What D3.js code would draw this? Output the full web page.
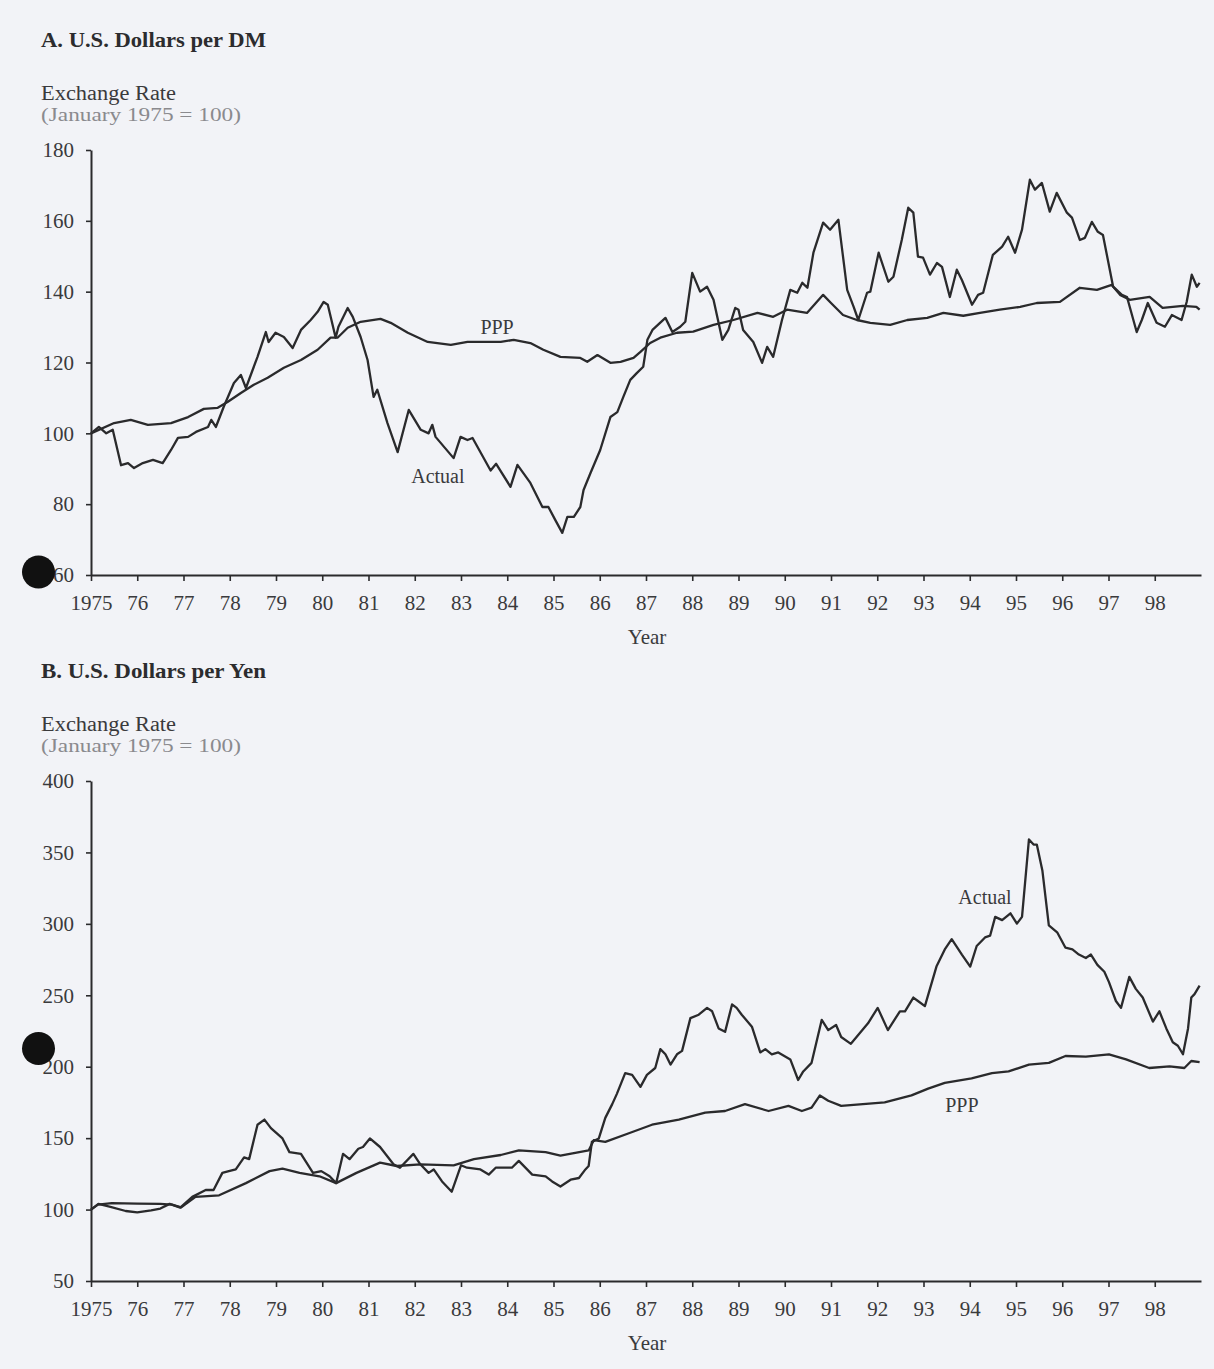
<!DOCTYPE html>
<html>
<head>
<meta charset="utf-8">
<script src="https://cdn.jsdelivr.net/npm/d3@7"></script>
<style>
  html, body { margin: 0; padding: 0; background: #f2f3f7; }
  svg { display: block; }
  text { font-family: "Liberation Serif", "Times New Roman", serif; }
</style>
</head>
<body>
<svg id="chart" width="1214" height="1369"></svg>
<script>
// ---------- DATA ----------
const yearTicks = d3.range(1975, 1999);           // 1975 .. 98
const dmTicks = [60, 80, 100, 120, 140, 160, 180];
const yenTicks = [50, 100, 150, 200, 250, 300, 350, 400];

// A. U.S. Dollars per DM (January 1975 = 100) — [year, index]
const dmActual = [
  [1975.00,100],[1975.17,101.8],[1975.33,100],[1975.47,101],[1975.65,91],[1975.80,91.6],[1975.93,90.2],
  [1976.12,91.6],[1976.34,92.5],[1976.55,91.6],[1976.73,95.3],[1976.88,98.7],[1977.10,99],[1977.27,100.4],
  [1977.53,101.8],[1977.60,103.8],[1977.70,101.8],[1977.87,107.5],[1978.09,114.2],[1978.24,116.5],
  [1978.35,112.8],[1978.60,121.6],[1978.78,128.6],[1978.84,125.8],[1978.99,128.4],[1979.17,127.2],
  [1979.36,124.1],[1979.54,129.2],[1979.75,132],[1979.90,134.3],[1980.03,137.1],[1980.12,136.3],
  [1980.29,127],[1980.35,130.1],[1980.55,135.4],[1980.66,132.9],[1980.83,127.2],[1980.98,120.7],
  [1981.11,110.3],[1981.19,112.3],[1981.41,102.9],[1981.63,94.7],[1981.87,106.6],[1982.13,101],
  [1982.30,100],[1982.38,102.4],[1982.45,99],[1982.84,93],[1982.99,99],[1983.14,98.1],[1983.25,98.7],
  [1983.64,89.5],[1983.76,91.4],[1984.07,84.9],[1984.22,91.1],[1984.50,86],[1984.76,79.2],[1984.89,79.2],
  [1985.04,75.5],[1985.19,71.9],[1985.30,76.4],[1985.44,76.4],[1985.58,79.2],[1985.65,84],[1985.80,88.8],
  [1986.01,95.3],[1986.23,104.6],[1986.38,106],[1986.51,110.3],[1986.66,115.1],[1986.80,117],[1986.94,118.8],
  [1987.03,126.4],[1987.14,129.2],[1987.42,132.6],[1987.57,128.6],[1987.74,130.1],[1987.85,131.5],
  [1988.00,145.3],[1988.17,140],[1988.32,141.4],[1988.46,137.7],[1988.65,126.4],[1988.78,129.2],
  [1988.93,135.4],[1989.00,134.9],[1989.10,129.2],[1989.32,125.8],[1989.51,119.9],[1989.62,124.4],
  [1989.75,121.6],[1989.94,132],[1990.12,140.5],[1990.27,139.7],[1990.38,142.5],[1990.49,141.1],
  [1990.62,151],[1990.83,159.5],[1990.98,157.5],[1991.16,160.3],[1991.35,140.5],[1991.49,135.7],
  [1991.59,132],[1991.78,139.7],[1991.85,140],[1992.03,151],[1992.24,142.8],[1992.35,144.2],
  [1992.53,154.6],[1992.67,163.7],[1992.78,162.3],[1992.88,149.9],[1992.99,149.6],[1993.14,144.8],
  [1993.29,148.1],[1993.40,147],[1993.57,138.5],[1993.72,146.2],[1993.83,143.3],[1994.05,136.3],
  [1994.18,139.1],[1994.29,139.7],[1994.50,150.4],[1994.70,152.7],[1994.83,155.5],[1994.98,151],
  [1995.13,157.5],[1995.30,171.6],[1995.41,168.8],[1995.56,170.7],[1995.73,162.6],[1995.88,167.9],
  [1996.10,162.3],[1996.21,160.9],[1996.38,154.6],[1996.49,155.2],[1996.64,159.7],[1996.77,156.9],
  [1996.88,156],[1997.10,141.4],[1997.29,139.1],[1997.40,138.5],[1997.61,128.6],[1997.72,132],
  [1997.85,136.8],[1998.04,131.2],[1998.22,130.1],[1998.37,133.4],[1998.58,132],[1998.69,137.1],
  [1998.80,144.8],[1998.91,141.4],[1998.97,142.5]
];
const dmPPP = [
  [1975.00,100],[1975.50,102.9],[1975.86,103.8],[1976.23,102.4],[1976.73,102.9],[1977.10,104.6],
  [1977.44,106.9],[1977.74,107.2],[1977.96,108.9],[1978.24,111.4],[1978.52,113.7],[1978.82,115.7],
  [1979.17,118.5],[1979.54,120.7],[1979.90,123.6],[1980.18,127],[1980.33,127],[1980.55,129.8],
  [1980.83,131.5],[1981.26,132.3],[1981.48,131.2],[1981.85,128.4],[1982.28,125.8],[1982.78,125],
  [1983.14,125.8],[1983.86,125.8],[1984.14,126.4],[1984.50,125.5],[1984.78,123.6],[1985.15,121.6],
  [1985.58,121.3],[1985.73,120.2],[1985.95,122.1],[1986.23,119.9],[1986.45,120.2],[1986.73,121.3],
  [1986.88,123],[1987.09,125.5],[1987.31,127],[1987.67,128.4],[1988.02,128.7],[1988.46,130.6],
  [1988.89,132],[1989.41,134],[1989.75,132.9],[1990.05,134.9],[1990.48,134],[1990.83,139.1],
  [1991.00,136.8],[1991.26,133.4],[1991.56,132],[1991.85,131.2],[1992.28,130.6],[1992.65,132],
  [1993.08,132.6],[1993.43,134],[1993.86,133.2],[1994.22,134],[1994.65,134.9],[1995.09,135.7],
  [1995.45,136.8],[1995.95,137.1],[1996.38,141.1],[1996.75,140.5],[1997.07,141.9],[1997.25,139.1],
  [1997.46,137.7],[1997.89,138.5],[1998.17,135.4],[1998.61,136],[1998.90,135.7],[1998.97,134.9]
];

// B. U.S. Dollars per Yen (January 1975 = 100) — [year, index]
const yenActual = [
  [1975.00,100],[1975.16,104],[1975.40,102],[1975.75,99],[1976.00,98],[1976.30,99.5],[1976.50,100.7],
  [1976.70,104],[1976.93,101.4],[1977.19,108.9],[1977.48,113.7],[1977.65,113.7],[1977.84,125.7],
  [1977.98,126.9],[1978.13,128.1],[1978.31,136.5],[1978.42,135.3],[1978.60,159.4],[1978.75,163],
  [1978.89,157],[1979.14,149.8],[1979.29,140.2],[1979.54,139],[1979.80,125.7],[1979.98,126.9],
  [1980.16,123.3],[1980.30,118.5],[1980.45,139],[1980.59,135.3],[1980.78,142.6],[1980.88,143.8],
  [1981.03,149.8],[1981.25,143.8],[1981.54,131.7],[1981.68,129.3],[1981.97,139],[1982.12,131.7],
  [1982.30,125.7],[1982.41,128.1],[1982.59,119.7],[1982.80,112.5],[1983.00,131],[1983.13,129.3],
  [1983.42,128.1],[1983.60,124.5],[1983.75,129.3],[1984.10,129.3],[1984.25,134.1],[1984.54,124.5],
  [1984.83,123.3],[1984.97,119.7],[1985.15,116.1],[1985.37,120.9],[1985.55,122.1],[1985.69,128.1],
  [1985.76,130.5],[1985.83,147.4],[1985.98,149.8],[1986.12,164.2],[1986.27,173.8],[1986.37,181],
  [1986.55,195.5],[1986.70,194.3],[1986.88,185.9],[1987.02,194.3],[1987.20,199.1],[1987.31,212.3],
  [1987.42,208.7],[1987.53,201.5],[1987.67,208.7],[1987.78,211.1],[1987.96,234],[1988.14,236.4],
  [1988.32,241.2],[1988.43,238.8],[1988.57,226.8],[1988.71,224.4],[1988.86,243.6],[1988.96,241.2],
  [1989.07,236.4],[1989.29,228],[1989.47,210],[1989.58,212.3],[1989.72,208.7],[1989.86,210],
  [1990.12,205.1],[1990.29,190.7],[1990.40,196.7],[1990.58,202.7],[1990.80,232.8],[1990.94,225.6],
  [1991.11,229.2],[1991.22,220.8],[1991.43,216],[1991.80,230.4],[1992.01,241.2],[1992.23,225.6],
  [1992.49,238.8],[1992.60,238.8],[1992.78,248.4],[1992.88,246],[1993.03,242.4],[1993.28,270.1],
  [1993.46,282.1],[1993.61,289.3],[1993.83,278.5],[1994.01,270.1],[1994.15,284.5],[1994.33,290.5],
  [1994.44,291.7],[1994.55,304.9],[1994.70,302.6],[1994.88,307.4],[1995.02,300.2],[1995.13,304.9],
  [1995.28,359.1],[1995.38,355.5],[1995.45,355.5],[1995.57,337.4],[1995.71,298.9],[1995.89,294.1],
  [1996.07,283.3],[1996.22,282.1],[1996.36,278.5],[1996.51,276.1],[1996.62,278.5],[1996.76,271.3],
  [1996.91,266.5],[1997.01,259.2],[1997.16,246],[1997.27,241.2],[1997.45,262.9],[1997.59,254.5],
  [1997.74,248.4],[1997.96,231.6],[1998.10,238.8],[1998.25,226.8],[1998.39,217.1],[1998.50,214.7],
  [1998.61,208.7],[1998.72,226.8],[1998.79,248.4],[1998.86,250.8],[1998.97,256.8]
];
const yenPPP = [
  [1975.00,100],[1975.15,103.5],[1975.45,104.5],[1976.00,104.2],[1976.50,104],[1976.75,103.5],
  [1976.95,101.5],[1977.26,108.9],[1977.77,110],[1978.35,118.5],[1978.86,126.9],[1979.14,128.6],
  [1979.51,125.7],[1979.94,123.3],[1980.30,118.5],[1980.74,125.7],[1981.25,132.9],[1981.61,130.5],
  [1982.12,131.7],[1982.84,131],[1983.28,135.3],[1983.86,138.2],[1984.25,141.4],[1984.83,140.2],
  [1985.15,137.8],[1985.76,141.4],[1985.87,148.6],[1986.12,147.4],[1986.63,153.4],[1987.13,159.4],
  [1987.71,163],[1988.28,167.8],[1988.71,169],[1989.14,173.8],[1989.65,169],[1990.08,172.6],
  [1990.37,169],[1990.58,171.4],[1990.76,179.9],[1990.94,176.2],[1991.22,172.6],[1992.16,175],
  [1992.74,179.9],[1993.10,184.7],[1993.46,188.7],[1994.04,191.9],[1994.48,195.5],[1994.84,196.7],
  [1995.28,201.5],[1995.71,202.7],[1996.07,207.5],[1996.51,207],[1997.01,208.7],[1997.38,205.1],
  [1997.88,199.1],[1998.32,200.3],[1998.64,199.1],[1998.79,204],[1998.97,203.2]
];

// ---------- DRAW ----------
const svg = d3.select("#chart");
const INK = "#2a2a2c";
const TXT = "#3a3a3c";

const x = d3.scaleLinear().domain([1975, 1999]).range([91, 1201]);

function panel(cfg) {
  const y = d3.scaleLinear().domain(cfg.domain).range(cfg.range);
  const g = svg.append("g");

  // titles
  g.append("text").attr("x", 41).attr("y", cfg.titleY)
    .attr("font-size", 21).attr("font-weight", "bold").attr("fill", "#2c2c2e")
    .attr("textLength", 225).attr("lengthAdjust", "spacingAndGlyphs")
    .text(cfg.title);
  g.append("text").attr("x", 41).attr("y", cfg.titleY + 53)
    .attr("font-size", 20).attr("fill", TXT)
    .attr("textLength", 135).attr("lengthAdjust", "spacingAndGlyphs")
    .text("Exchange Rate");
  g.append("text").attr("x", 41).attr("y", cfg.titleY + 74)
    .attr("font-size", 18).attr("fill", "#8a8a8e")
    .attr("textLength", 200).attr("lengthAdjust", "spacingAndGlyphs")
    .text("(January 1975 = 100)");

  // x axis
  const xa = g.append("g").attr("transform", `translate(0,${cfg.range[0]})`)
    .call(d3.axisBottom(x).tickValues(yearTicks)
      .tickFormat(d => d === 1975 ? "1975" : String(d % 100).padStart(2, "0"))
      .tickSize(6).tickSizeOuter(0).tickPadding(14));
  // y axis
  const ya = g.append("g").attr("transform", `translate(${x(1975)},0)`)
    .call(d3.axisLeft(y).tickValues(cfg.ticks).tickSize(5).tickSizeOuter(0).tickPadding(12));
  [xa, ya].forEach(a => {
    a.select(".domain").attr("stroke", INK).attr("stroke-width", 2);
    a.selectAll(".tick line").attr("stroke", INK).attr("stroke-width", 1.6);
    a.selectAll(".tick text").attr("fill", TXT).attr("font-size", 21)
      .attr("font-family", "Liberation Serif, Times New Roman, serif");
  });

  // axis title
  g.append("text").attr("x", 647).attr("y", cfg.range[0] + 69)
    .attr("text-anchor", "middle").attr("font-size", 21).attr("fill", TXT).text("Year");

  // series
  const line = d3.line().x(d => x(d[0])).y(d => y(d[1]));
  cfg.series.forEach(s => {
    g.append("path").datum(s).attr("d", line)
      .attr("fill", "none").attr("stroke", INK).attr("stroke-width", 2.3)
      .attr("stroke-linejoin", "round");
  });

  // series labels
  cfg.labels.forEach(l => {
    g.append("text").attr("x", x(l.t)).attr("y", y(l.v))
      .attr("text-anchor", "middle").attr("font-size", 20).attr("fill", TXT).text(l.text);
  });
}

panel({
  title: "A. U.S. Dollars per DM",
  titleY: 47,
  domain: [60, 180], range: [575, 150], ticks: dmTicks,
  series: [dmPPP, dmActual],
  labels: [{text: "PPP", t: 1983.78, v: 128}, {text: "Actual", t: 1982.5, v: 86}]
});

panel({
  title: "B. U.S. Dollars per Yen",
  titleY: 678,
  domain: [50, 400], range: [1281, 781], ticks: yenTicks,
  series: [yenPPP, yenActual],
  labels: [{text: "Actual", t: 1994.33, v: 314}, {text: "PPP", t: 1993.83, v: 168}]
});

// punch holes of the scanned page
svg.append("circle").attr("cx", 38.5).attr("cy", 572).attr("r", 16.5).attr("fill", "#111");
svg.append("circle").attr("cx", 38.5).attr("cy", 1048.5).attr("r", 16.5).attr("fill", "#111");
</script>
</body>
</html>
